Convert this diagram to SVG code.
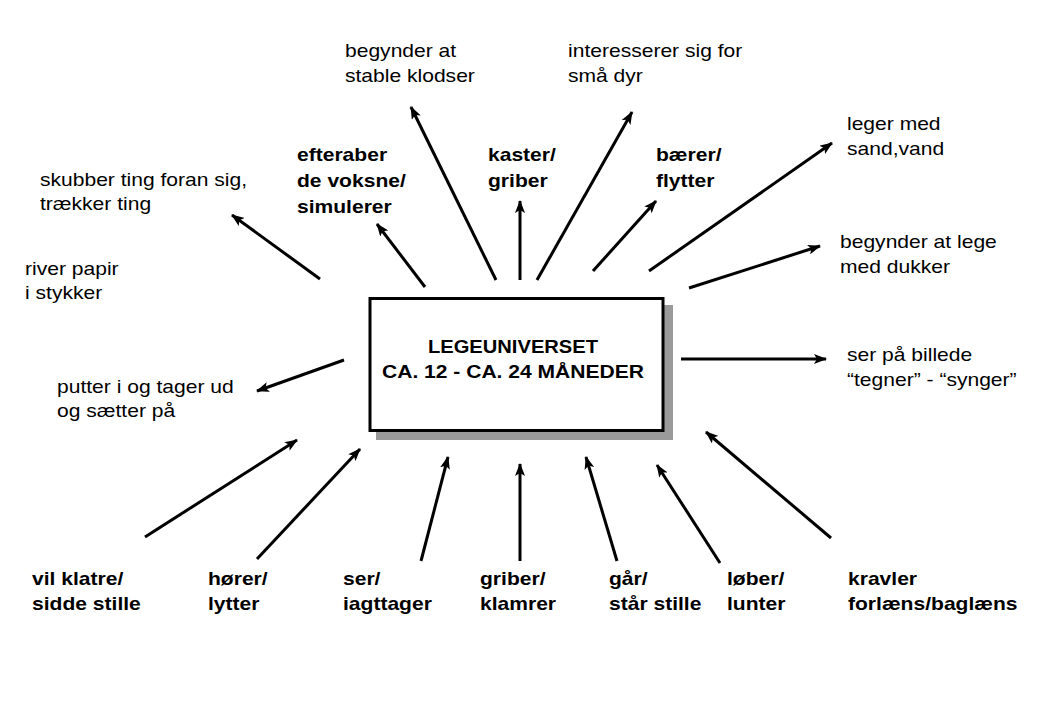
<svg xmlns="http://www.w3.org/2000/svg" width="1040" height="720" viewBox="0 0 1040 720">
<defs>
<marker id="ah" markerUnits="userSpaceOnUse" markerWidth="13" markerHeight="10" viewBox="0 0 13 10" refX="12" refY="5" orient="auto">
<path d="M0,0 L13,5 L0,10 L3,5 z" fill="#000"/>
</marker>
<style>
.c{stroke:#000;stroke-width:3;fill:none;marker-end:url(#ah)}
.t{font-family:"Liberation Sans",Arial,sans-serif;font-size:18px;fill:#000}
.b{font-weight:bold}
</style>
</defs>
<rect width="1040" height="720" fill="#fff"/>
<g id="center">
<rect x="376" y="305" width="297" height="135" fill="#9a9a9a"/>
<rect x="370" y="298.5" width="293" height="132" fill="#fff" stroke="#000" stroke-width="3"/>
</g>
<g id="connectors">
<line class="c" x1="320" y1="279" x2="232" y2="215"/>
<line class="c" x1="425" y1="287" x2="377" y2="224"/>
<line class="c" x1="496" y1="280" x2="411" y2="107"/>
<line class="c" x1="520" y1="280" x2="520" y2="201"/>
<line class="c" x1="537" y1="280" x2="632" y2="112"/>
<line class="c" x1="593" y1="271" x2="656" y2="201"/>
<line class="c" x1="649" y1="271" x2="832" y2="143"/>
<line class="c" x1="689" y1="288" x2="820" y2="246"/>
<line class="c" x1="681" y1="359" x2="826" y2="359"/>
<line class="c" x1="344" y1="360" x2="257" y2="391"/>
<line class="c" x1="145" y1="537" x2="297" y2="440"/>
<line class="c" x1="257" y1="559" x2="360" y2="449"/>
<line class="c" x1="421" y1="561" x2="448" y2="457"/>
<line class="c" x1="520" y1="561" x2="520" y2="464"/>
<line class="c" x1="617" y1="561" x2="586" y2="457"/>
<line class="c" x1="720" y1="563" x2="657" y2="465"/>
<line class="c" x1="831" y1="538" x2="706" y2="432"/>
</g>
<g transform="scale(1.17 1)">
<g id="n-center" class="t b" text-anchor="middle">
<text x="438.46" y="353" textLength="145.3" lengthAdjust="spacingAndGlyphs">LEGEUNIVERSET</text>
<text x="438.46" y="378">CA. 12 - CA. 24 MÅNEDER</text>
</g>
<g id="n-stable" class="t"><text x="294.87" y="57">begynder at</text><text x="294.87" y="82">stable klodser</text></g>
<g id="n-dyr" class="t"><text x="485.47" y="57">interesserer sig for</text><text x="485.47" y="82">små dyr</text></g>
<g id="n-sand" class="t"><text x="723.93" y="130">leger med</text><text x="723.93" y="155">sand,vand</text></g>
<g id="n-skubber" class="t"><text x="34.19" y="186">skubber ting foran sig,</text><text x="34.19" y="210">trækker ting</text></g>
<g id="n-efteraber" class="t b"><text x="253.85" y="161">efteraber</text><text x="253.85" y="187">de voksne/</text><text x="253.85" y="213">simulerer</text></g>
<g id="n-kaster" class="t b"><text x="417.09" y="161">kaster/</text><text x="417.09" y="187">griber</text></g>
<g id="n-baerer" class="t b"><text x="560.68" y="161">bærer/</text><text x="560.68" y="187">flytter</text></g>
<g id="n-dukker" class="t"><text x="717.95" y="248">begynder at lege</text><text x="717.95" y="273">med dukker</text></g>
<g id="n-river" class="t"><text x="21.37" y="275">river papir</text><text x="21.37" y="299">i stykker</text></g>
<g id="n-billede" class="t"><text x="723.93" y="361">ser på billede</text><text x="723.93" y="386">“tegner” - “synger”</text></g>
<g id="n-putter" class="t"><text x="48.72" y="393">putter i og tager ud</text><text x="48.72" y="417">og sætter på</text></g>
<g id="n-klatre" class="t b"><text x="27.35" y="585">vil klatre/</text><text x="27.35" y="610">sidde stille</text></g>
<g id="n-hoerer" class="t b"><text x="177.78" y="585">hører/</text><text x="177.78" y="610">lytter</text></g>
<g id="n-ser" class="t b"><text x="293.16" y="585">ser/</text><text x="293.16" y="610">iagttager</text></g>
<g id="n-griber" class="t b"><text x="410.26" y="585">griber/</text><text x="410.26" y="610">klamrer</text></g>
<g id="n-gaar" class="t b"><text x="520.51" y="585">går/</text><text x="520.51" y="610">står stille</text></g>
<g id="n-loeber" class="t b"><text x="621.37" y="585">løber/</text><text x="621.37" y="610">lunter</text></g>
<g id="n-kravler" class="t b"><text x="724.79" y="585">kravler</text><text x="724.79" y="610">forlæns/baglæns</text></g>
</g>
</svg>
